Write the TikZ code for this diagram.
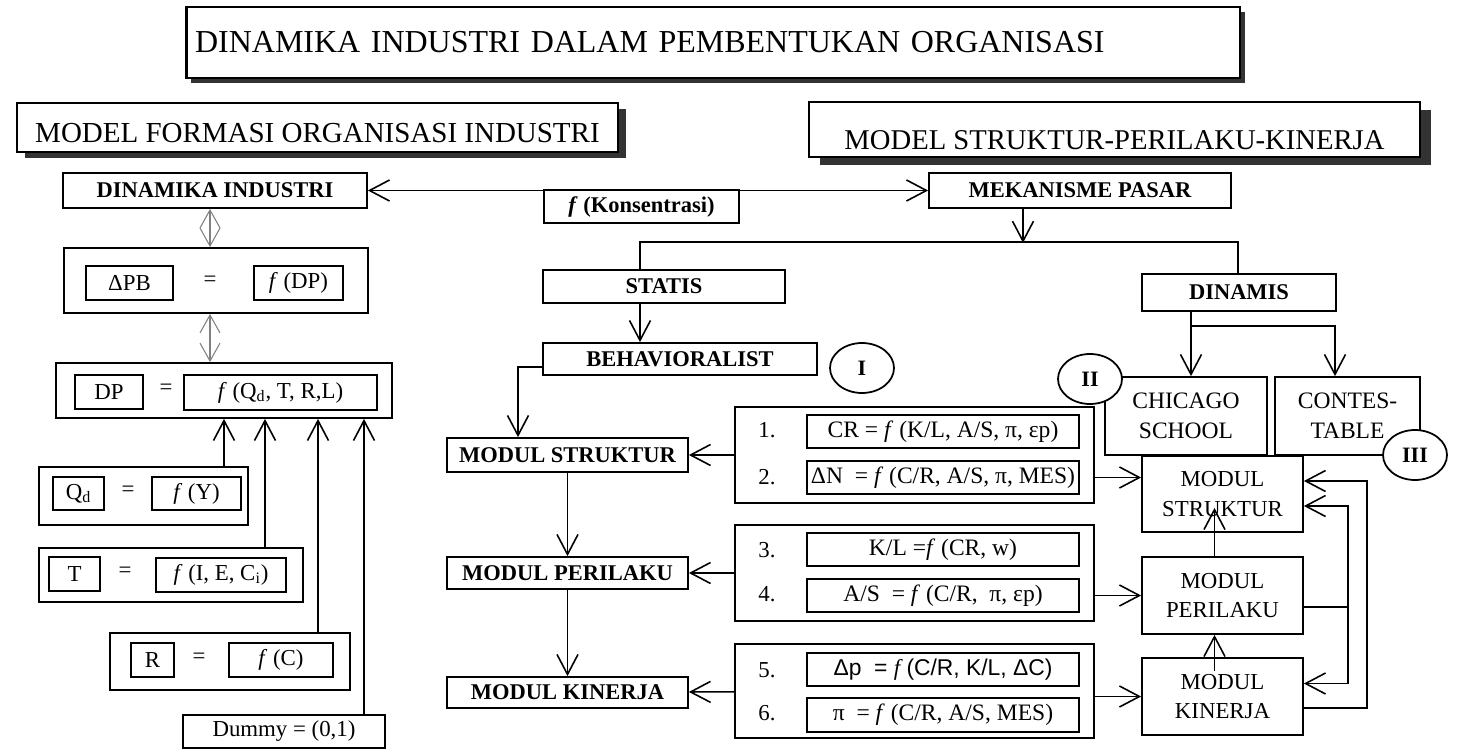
\documentclass[tikz,border=0pt]{standalone}
\usepackage{fontspec}
\setmainfont{Liberation Serif}
\newfontfamily\arialfont{Liberation Sans}
\usetikzlibrary{arrows.meta,calc,shadows,shapes.geometric}
\begin{document}
\begin{tikzpicture}[x=0.02cm,y=-0.02cm,
  box/.style={draw,line width=1pt,inner sep=0pt,font=\fontsize{13}{15}\selectfont},
  head/.style={draw,line width=1.6pt,fill=white,inner sep=0pt},
  lbl/.style={font=\fontsize{12.8}{14}\selectfont\bfseries},
  mdl/.style={font=\fontsize{13}{17}\selectfont,align=center},
  eqs/.style={font=\fontsize{13}{15}\selectfont},
  roman/.style={draw,ellipse,line width=1pt,fill=white,minimum width=1.28cm,minimum height=1cm,inner sep=0pt,font=\fontsize{12.5}{14}\selectfont\bfseries},
  arr/.style={-{Straight Barb[length=0.4cm,width=0.42cm]},line width=0.9pt},
  darr/.style={{Straight Barb[length=0.36cm,width=0.4cm]}-{Straight Barb[length=0.36cm,width=0.4cm]},gray,line width=0.6pt}]
\useasboundingbox (0,0) rectangle (1457,750);

% judul
\node[head,drop shadow={opacity=1,fill=black!80,shadow xshift=0.1cm,shadow yshift=-0.1cm},minimum width=21.08cm,minimum height=1.42cm,inner xsep=0.18cm,text width=20.72cm,align=left,font=\fontsize{18.2}{20}\selectfont] (judul) at (713,42.5) {DINAMIKA INDUSTRI DALAM PEMBENTUKAN ORGANISASI};
\node[head,drop shadow={opacity=1,fill=black!80,shadow xshift=0.16cm,shadow yshift=-0.12cm},minimum width=12.02cm,minimum height=0.98cm,text height=0.6cm,text depth=0cm,font=\fontsize{16.5}{18}\selectfont] (mfo) at (317.5,127.5) {MODEL FORMASI ORGANISASI INDUSTRI};
\node[head,drop shadow={opacity=1,fill=black!80,shadow xshift=0.22cm,shadow yshift=-0.16cm},minimum width=12.22cm,minimum height=1.1cm,text height=0.8cm,text depth=0cm,font=\fontsize{16.3}{18}\selectfont] (mspk) at (1114.5,129.5) {MODEL STRUKTUR-PERILAKU-KINERJA};

% model formasi
\node[box,lbl,minimum width=6.08cm,minimum height=0.7cm] (din) at (215,190.5) {DINAMIKA INDUSTRI};
\node[box,lbl,minimum width=6.04cm,minimum height=0.7cm] (mek) at (1080,190.5) {MEKANISME PASAR};
\draw[{Straight Barb[length=0.4cm,width=0.42cm]}-{Straight Barb[length=0.4cm,width=0.42cm]},line width=0.9pt] (din) -- (mek);
\node[box,fill=white,minimum width=3.9cm,minimum height=0.66cm,font=\fontsize{12.8}{14}\selectfont] (kons) at (641.5,206.5) {\textbf{\textit{f} (Konsentrasi)}};

\node[box,minimum width=6.08cm,minimum height=1.3cm] (pbO) at (216,280.5) {};
\node[box,minimum width=1.74cm,minimum height=0.68cm] (pb) at (129.5,283) {ΔPB};
\node[eqs] (pbe) at (210,281) {=};
\node[box,minimum width=1.78cm,minimum height=0.68cm] (fdp) at (298.5,283) {\textit{f} (DP)};

\node[box,minimum width=6.72cm,minimum height=1.1cm] (dpO) at (224,390.5) {};
\node[box,minimum width=1.36cm,minimum height=0.68cm] (dp) at (109,392) {DP};
\node[eqs] (dpe) at (166,389) {=};
\node[box,minimum width=3.86cm,minimum height=0.7cm] (fq) at (280.5,392.5) {\textit{f} (Q\textsubscript{d}, T, R,L)};

\node[box,minimum width=4.18cm,minimum height=1.16cm] (qdO) at (143.5,496) {};
\node[box,minimum width=1.02cm,minimum height=0.66cm] (qd) at (78.5,493.5) {Q\textsubscript{d}};
\node[eqs] (qde) at (128,491) {=};
\node[box,minimum width=1.78cm,minimum height=0.66cm] (fy) at (196.5,493.5) {\textit{f} (Y)};

\node[box,minimum width=5.28cm,minimum height=1.08cm] (tO) at (171,575) {};
\node[box,minimum width=1.02cm,minimum height=0.68cm] (t) at (74.5,574) {T};
\node[eqs] (te) at (125,572) {=};
\node[box,minimum width=2.6cm,minimum height=0.68cm] (fi) at (221,575) {\textit{f} (I, E, C\textsubscript{i})};

\node[box,minimum width=4.8cm,minimum height=1.14cm] (rO) at (230,661.5) {};
\node[box,minimum width=0.86cm,minimum height=0.68cm] (r) at (152.5,660) {R};
\node[eqs] (re) at (199,658) {=};
\node[box,minimum width=2.08cm,minimum height=0.68cm] (fc) at (281,660) {\textit{f} (C)};

\node[box,minimum width=4.04cm,minimum height=0.66cm] (dum) at (284,731.5) {Dummy = (0,1)};

\draw[darr] (din.south -| pbe) -- (pbO.north -| pbe);
\draw[darr] (pbO.south -| pbe) -- (dpO.north -| pbe);
\coordinate (in2) at ($(dpO.south)+(41,0)$);
\coordinate (in3) at ($(dpO.south)+(94,0)$);
\coordinate (in4) at ($(dpO.south)+(140,0)$);
\draw[arr] (qdO.north -| dpO) -- (dpO.south);
\draw[arr] (tO.north -| in2) -- (in2);
\draw[arr] (rO.north -| in3) -- (in3);
\draw[arr] (dum.north -| in4) -- (in4);

% model SPK
\node[box,lbl,minimum width=4.84cm,minimum height=0.66cm] (sta) at (664,286.5) {STATIS};
\node[box,lbl,minimum width=5.48cm,minimum height=0.64cm] (beh) at (680,359) {BEHAVIORALIST};
\node[roman] (c1) at (862,368) {I};
\node[box,lbl,minimum width=3.88cm,minimum height=0.74cm] (dns) at (1239,292.5) {DINAMIS};
\node[box,mdl,font=\fontsize{13.4}{17}\selectfont,minimum width=3.24cm,minimum height=1.56cm] (chi) at (1186,416) {CHICAGO\\SCHOOL};
\node[box,mdl,font=\fontsize{13.4}{17}\selectfont,minimum width=2.9cm,minimum height=1.56cm] (con) at (1347.5,416) {CONTES-\\TABLE};
\node[roman] (c2) at (1090,379) {II};
\node[roman] (c3) at (1415,455) {III};

\coordinate (hl) at (640,242);
\coordinate (hr) at (1238,242);
\coordinate (mk1) at ($(mek.south)+(-57,34)$);
\draw[line width=0.9pt] (sta.north -| hl) -- (hl) -- (hr) -- (dns.north -| hr);
\draw[arr] (mek.south -| mk1) -- (mk1);
\draw[arr] (sta.south -| hl) -- (beh.north -| hl);
\coordinate (sp) at (1191,326);
\coordinate (sp2) at (1335,326);
\draw[line width=0.9pt] (dns.south -| sp) -- (sp);
\draw[arr] (sp) -- (chi.north -| sp);
\draw[arr] (sp) -- (sp2) -- (con.north -| sp2);

\node[box,lbl,minimum width=4.82cm,minimum height=0.68cm] (ms) at (567.5,455) {MODUL STRUKTUR};
\node[box,lbl,minimum width=4.82cm,minimum height=0.64cm] (mp) at (567.5,573) {MODUL PERILAKU};
\node[box,lbl,minimum width=4.82cm,minimum height=0.62cm] (mkj) at (567.5,692.5) {MODUL KINERJA};
\coordinate (bl) at (518,367);
\draw[arr] (beh.west |- bl) -| (ms.north -| bl);
\draw[arr] (ms) -- (mp);
\draw[arr] (mp) -- (mkj);

\node[box,minimum width=7.18cm,minimum height=1.92cm] (g1) at (914.5,455) {};
\node[eqs] (n1) at (767,430) {1.};
\node[eqs] (n2) at (767,477) {2.};
\node[box,minimum width=5.44cm,minimum height=0.66cm,font=\fontsize{13.4}{15}\selectfont] (e1) at (943,431.5) {CR = \textit{f} (K/L, A/S, π, εp)};
\node[box,minimum width=5.44cm,minimum height=0.66cm,font=\fontsize{13.4}{15}\selectfont] (e2) at (943,477.5) {ΔN \ = \textit{f} (C/R, A/S, π, MES)};

\node[box,minimum width=7.18cm,minimum height=1.92cm] (g2) at (914.5,573) {};
\node[eqs] (n3) at (767,550) {3.};
\node[eqs] (n4) at (767,594) {4.};
\node[box,minimum width=5.44cm,minimum height=0.66cm,font=\fontsize{13.4}{15}\selectfont] (e3) at (943,549.5) {K/L =\textit{f} (CR, w)};
\node[box,minimum width=5.44cm,minimum height=0.66cm,font=\fontsize{13.4}{15}\selectfont] (e4) at (943,595.5) {A/S \ = \textit{f} (C/R, \ π, εp)};

\node[box,minimum width=7.18cm,minimum height=1.88cm] (g3) at (914.5,691) {};
\node[eqs] (n5) at (767,670) {5.};
\node[eqs] (n6) at (767,713) {6.};
\node[box,minimum width=5.44cm,minimum height=0.66cm,font=\fontsize{13}{15}\selectfont] (e5) at (943,669.5) {\arialfont Δp \ = {\rmfamily\itshape f} (C/R, K/L, ΔC)};
\node[box,minimum width=5.44cm,minimum height=0.68cm,font=\fontsize{13.4}{15}\selectfont] (e6) at (943,715) {π \ = \textit{f} (C/R, A/S, MES)};

\draw[arr] (g1) -- (ms);
\draw[arr] (g2) -- (mp);
\draw[arr] (g3) -- (mkj);

\node[box,mdl,minimum width=3.22cm,minimum height=1.52cm] (rs) at (1222.5,494) {MODUL\\STRUKTUR};
\node[box,mdl,minimum width=3.22cm,minimum height=1.54cm] (rp) at (1222.5,595.5) {MODUL\\PERILAKU};
\node[box,mdl,minimum width=3.22cm,minimum height=1.54cm] (rk) at (1222.5,696.5) {MODUL\\KINERJA};

\draw[arr] (g1.east |- e2) -- (rs.west |- e2);
\draw[arr] (g2.east |- rp) -- (rp.west);
\draw[arr] (g3.east |- rk) -- (rk.west);
\coordinate (u1) at ($(rs.south)+(-8,-25)$);
\coordinate (u2) at ($(rk.north)+(-8,14)$);
\draw[arr] (rp.north -| u1) -- (u1);
\draw[arr] (u2) -- (rp.south -| u2);
\coordinate (fb) at (1348,607);
\draw[line width=0.9pt] (rp.east |- fb) -- (fb);
\draw[arr] (fb) |- ($(rs.east)+(0,12)$);
\draw[arr] (fb) |- ($(rk.east)+(0,-13)$);
\coordinate (fo) at (1367,708);
\draw[arr] (rk.east |- fo) -- (fo) |- ($(rs.east)+(0,-13)$);
\end{tikzpicture}
\end{document}
